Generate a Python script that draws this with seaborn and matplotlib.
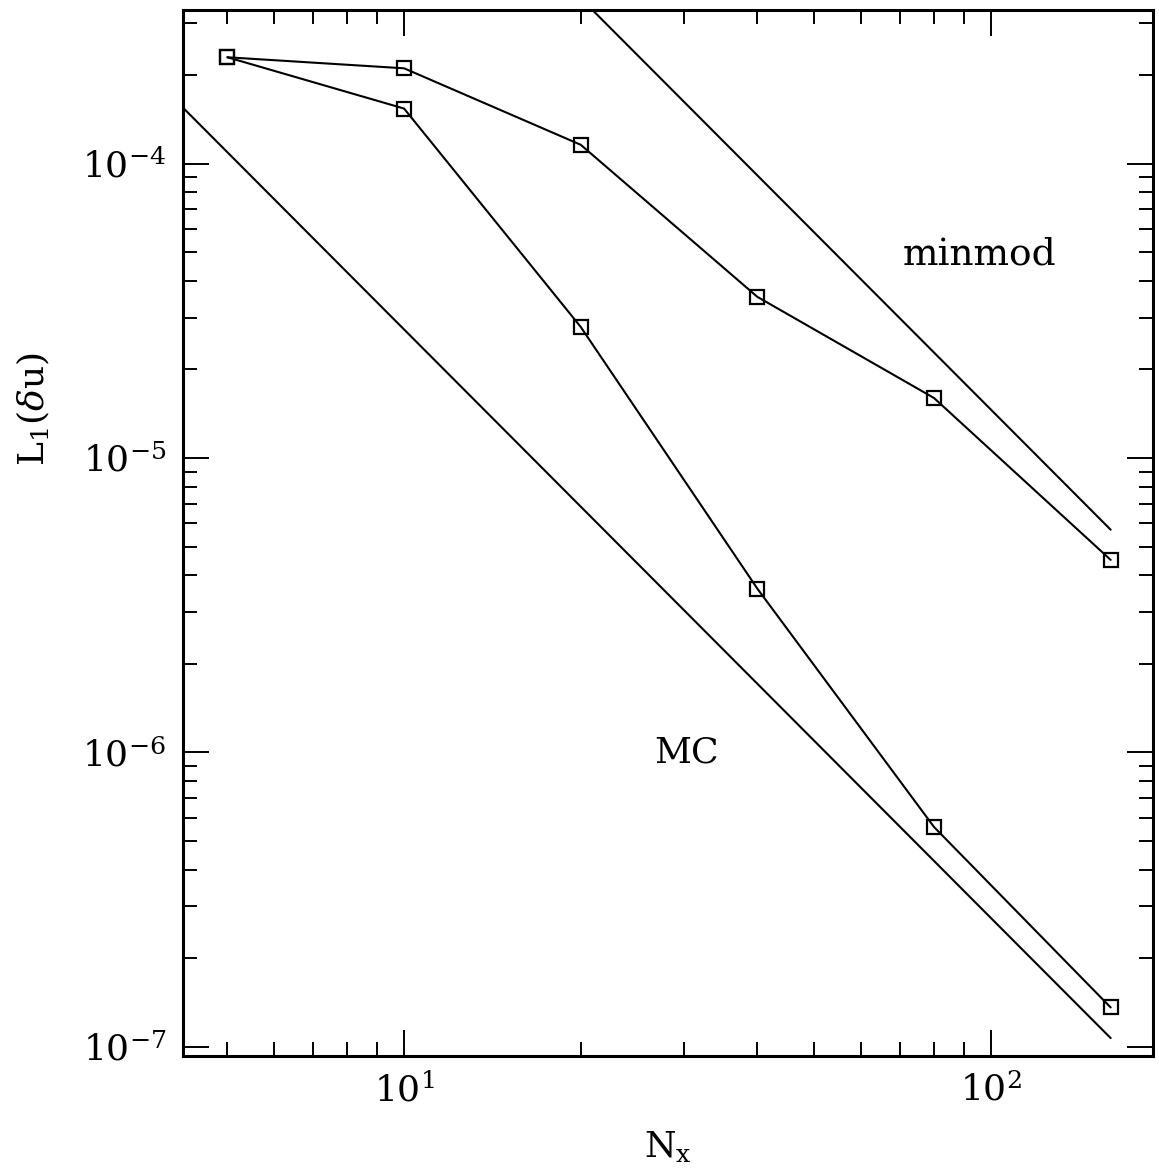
import numpy as np
import pandas as pd
import matplotlib
matplotlib.use("Agg")
import matplotlib.pyplot as plt
import seaborn as sns

# --- data ---
nx = [5, 10, 20, 40, 80, 160]
err_minmod = [2.30e-4, 2.11e-4, 1.16e-4, 3.53e-5, 1.60e-5, 4.51e-6]
err_mc = [2.30e-4, 1.54e-4, 2.79e-5, 3.60e-6, 5.58e-7, 1.36e-7]

# slope -2 guide lines (end points)
guide_mc_x = [4.2, 160]
guide_mc_y = [1.55e-4, 1.07e-7]
guide_mm_x = [20, 160]
guide_mm_y = [3.65e-4, 5.71e-6]

df = pd.DataFrame({
    "Nx": nx * 2,
    "L1": err_minmod + err_mc,
    "scheme": ["minmod"] * len(nx) + ["MC"] * len(nx),
})

sns.set_theme(style="ticks")
plt.rcParams["font.family"] = ["DejaVu Serif"]
plt.rcParams["mathtext.fontset"] = "dejavuserif"
for k in ["text.color", "axes.labelcolor", "xtick.color", "ytick.color",
          "axes.edgecolor"]:
    plt.rcParams[k] = "black"

fig = plt.figure(figsize=(11.59, 11.74), dpi=100)
ax = fig.add_axes([0.1579, 0.1005, 0.8369, 0.891])

sns.lineplot(data=df, x="Nx", y="L1", units="scheme", estimator=None,
             color="black", lw=1.5, marker="s", markersize=10,
             markerfacecolor="none", markeredgecolor="black",
             markeredgewidth=1.6, ax=ax)
sns.lineplot(x=guide_mc_x, y=guide_mc_y, color="black", lw=1.5, ax=ax)
sns.lineplot(x=guide_mm_x, y=guide_mm_y, color="black", lw=1.5, ax=ax)

ax.set_xscale("log")
ax.set_yscale("log")
ax.set_xlim(4.2, 188.9)
ax.set_ylim(9.3e-8, 3.33e-4)

ax.text(95.7, 4.91e-5, "minmod", fontsize=27, ha="center", va="center")
ax.text(30.3, 1.0e-6, "MC", fontsize=26, ha="center", va="center")

ax.set_xlabel(r"N$_\mathrm{x}$", fontsize=26)
ax.set_ylabel(r"L$_1$($\delta$u)", fontsize=26)
ax.xaxis.set_label_coords(0.5, -0.07)
ax.yaxis.set_label_coords(-0.135, 0.618)

ax.tick_params(which="both", direction="in", top=True, right=True,
               labelsize=26, pad=12, color="black", labelcolor="black")
ax.tick_params(which="major", length=19, width=1.4)
ax.tick_params(which="minor", length=10, width=1.4)
for s in ax.spines.values():
    s.set_linewidth(2.2)
    s.set_color("black")

fig.savefig("out.png", dpi=100)
